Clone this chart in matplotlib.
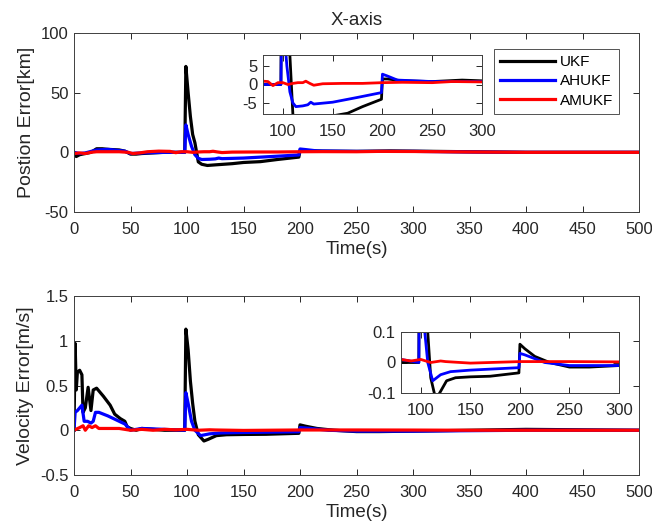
import matplotlib
matplotlib.use('Agg')
import matplotlib.pyplot as plt

plt.rcParams['font.family'] = ['Liberation Sans', 'DejaVu Sans']
plt.rcParams['axes.unicode_minus'] = False

LABELS = ['UKF', 'AHUKF', 'AMUKF']
COLORS = ['black', 'blue', 'red']

# position error [km]
ukf_pos_t = [0, 2, 5, 10, 15, 20, 25, 30, 40, 45, 50, 55, 60, 70, 80, 90, 98, 99, 101, 103, 105, 107,
             110, 113, 118, 125, 140, 150, 165, 180, 199, 200, 205, 220, 250, 280, 300, 350, 400, 450, 500]
ukf_pos = [0, -3.5, -2, -1, 0, 3, 3, 2.5, 2, 1, -1.5, -1.5, -1, -0.5, 0, 0, 0, 72, 50, 30, 15, 8,
           -8, -10, -11, -10.5, -9.5, -8.5, -7.8, -6, -4, 1.5, 1.5, 1, 0.8, 1.2, 1, 0.5, 0, 0, 0]
ahukf_pos_t = [0, 5, 10, 20, 30, 40, 45, 50, 60, 80, 98, 99, 101, 104, 107, 110, 113, 120, 125, 128,
               131, 150, 175, 199, 200, 205, 215, 250, 300, 350, 400, 450, 500]
ahukf_pos = [0, -1, -0.5, 2, 2.5, 1.5, 1, -1, -0.5, 0, 0, 23, 15, 5, -2, -5, -6, -5.8, -5.5, -4.8,
             -5.3, -4.8, -3.5, -2.2, 2.8, 2.3, 1.2, 0.8, 0.8, 0.3, 0, 0, 0]
amukf_pos_t = [0, 5, 10, 15, 20, 30, 40, 48, 52, 58, 65, 75, 85, 90, 95, 100, 105, 110, 115, 120,
               123, 127, 131, 140, 160, 180, 200, 220, 250, 270, 300, 350, 400, 450, 500]
amukf_pos = [-1, -0.5, -1, 0, 0.5, 0.5, 0.5, 0, -1, -0.5, 0.5, 1, 0.8, -0.3, 0.5, 0.5, 0, 0.3, 0.5, 0.5,
             0.9, 0.3, -0.2, 0.2, 0.3, 0.3, 0.5, 0.6, 0.5, 0.8, 0.7, 0.3, 0, 0, 0]

# velocity error [m/s]
ukf_vel_t = [0, 1, 2, 3, 5, 7, 8, 10, 12.5, 15, 17, 20, 22, 26, 32, 36, 41, 45, 47, 50, 55, 60, 70,
             80, 98, 99, 101, 103, 105, 107, 110, 115, 119, 126, 135, 150, 170, 199, 200, 205, 215,
             230, 250, 270, 300, 350, 400, 450, 500]
ukf_vel = [0, 0.97, 0.45, 0.65, 0.67, 0.62, 0.2, 0.25, 0.48, 0.22, 0.45, 0.47, 0.44, 0.38, 0.28, 0.18,
           0.13, 0.1, 0.04, 0.02, 0.0, 0.02, 0.01, 0.0, 0.0, 1.13, 0.9, 0.55, 0.3, 0.1, -0.05, -0.12,
           -0.1, -0.06, -0.05, -0.047, -0.045, -0.034, 0.06, 0.045, 0.02, 0.0, -0.015, -0.015, -0.01,
           0.0, 0.01, 0.005, 0]
ahukf_vel_t = [0, 1, 3, 5, 7, 9, 12, 15, 17, 19, 22, 30, 40, 45, 48, 50, 55, 60, 80, 98, 99, 101, 104,
               107, 112, 120, 130, 150, 199, 200, 205, 225, 250, 300, 350, 400, 450, 500]
ahukf_vel = [0, 0.2, 0.22, 0.25, 0.28, 0.1, 0.1, 0.08, 0.1, 0.2, 0.2, 0.16, 0.1, 0.07, 0.03, 0.0, 0.01,
             0.02, 0.01, 0.0, 0.42, 0.3, 0.1, 0.0, -0.06, -0.04, -0.03, -0.025, -0.017, 0.03, 0.025,
             0.0, -0.01, -0.01, -0.005, 0.0, 0.0, 0]
amukf_vel_t = [0, 5, 8, 10, 13, 16, 19, 22, 30, 40, 50, 60, 70, 80, 90, 100, 110, 120, 125, 150, 200,
               250, 300, 350, 400, 450, 500]
amukf_vel = [0.0, 0.03, 0.05, 0.0, 0.05, 0.03, 0.05, 0.02, 0.02, 0.02, 0.0, 0.01, 0.0, 0.01, 0.005,
             0.01, 0.0, 0.005, 0.003, -0.002, 0.003, 0.003, 0.002, 0.0, 0.0, 0.0, 0]

pos_series = [(ukf_pos_t, ukf_pos), (ahukf_pos_t, ahukf_pos), (amukf_pos_t, amukf_pos)]
vel_series = [(ukf_vel_t, ukf_vel), (ahukf_vel_t, ahukf_vel), (amukf_vel_t, amukf_vel)]

W, H = 652, 531
TXT = '#262626'
fig = plt.figure(figsize=(W / 100, H / 100), dpi=100)


def box(l, t, r, b):
    return [l / W, 1 - b / H, (r - l) / W, (b - t) / H]


def style(ax):
    ax.tick_params(direction='in', top=True, right=True, length=4.5, labelsize=12,
                   colors=TXT, width=0.7)
    ax.tick_params(axis='x', pad=7)
    ax.tick_params(axis='y', pad=4)
    for s in ax.spines.values():
        s.set_color('#404040')
        s.set_linewidth(0.7)


def draw(ax, series, lw=2.3):
    lines = []
    for (t, v), c, lab in zip(series, COLORS, LABELS):
        lines += ax.plot(t, v, color=c, lw=lw, label=lab)
    return lines


ax1 = fig.add_axes(box(74, 33, 639, 212))
lines = draw(ax1, pos_series)
ax1.set_xlim(0, 500)
ax1.set_ylim(-50, 100)
ax1.set_xticks(range(0, 501, 50))
ax1.set_yticks([-50, 0, 50, 100])
ax1.set_xlabel('Time(s)', fontsize=13.5, color=TXT, labelpad=3)
ax1.set_ylabel('Postion Error[km]', fontsize=14, color=TXT, labelpad=4)
ax1.set_title('X-axis', fontsize=13.5, color=TXT, pad=6)
style(ax1)

in1 = fig.add_axes(box(263, 55, 482, 114))
draw(in1, pos_series, lw=2.0)
in1.set_xlim(80, 300)
in1.set_ylim(-8, 8)
in1.set_xticks([100, 150, 200, 250, 300])
in1.set_yticks([-5, 0, 5])
style(in1)

leg = fig.legend(lines, LABELS, loc='upper left', bbox_to_anchor=(494 / W, 1 - 49 / H),
                 fontsize=11, frameon=True, fancybox=False, edgecolor='#262626',
                 handlelength=3.6, borderpad=0.4, labelspacing=0.35, handletextpad=0.3,
                 borderaxespad=0)
leg.get_frame().set_linewidth(0.7)

ax2 = fig.add_axes(box(74, 296, 639, 475))
draw(ax2, vel_series)
ax2.set_xlim(0, 500)
ax2.set_ylim(-0.5, 1.5)
ax2.set_xticks(range(0, 501, 50))
ax2.set_yticks([-0.5, 0, 0.5, 1, 1.5])
ax2.set_yticklabels(['-0.5', '0', '0.5', '1', '1.5'])
ax2.set_xlabel('Time(s)', fontsize=13.5, color=TXT, labelpad=3)
ax2.set_ylabel('Velocity Error[m/s]', fontsize=14, color=TXT, labelpad=4)
style(ax2)

in2 = fig.add_axes(box(401, 332, 619, 393))
draw(in2, vel_series, lw=2.0)
in2.set_xlim(80, 300)
in2.set_ylim(-0.1, 0.1)
in2.set_xticks([100, 150, 200, 250, 300])
in2.set_yticks([-0.1, 0, 0.1])
in2.set_yticklabels(['-0.1', '0', '0.1'])
style(in2)

fig.savefig('out.png', dpi=100)
